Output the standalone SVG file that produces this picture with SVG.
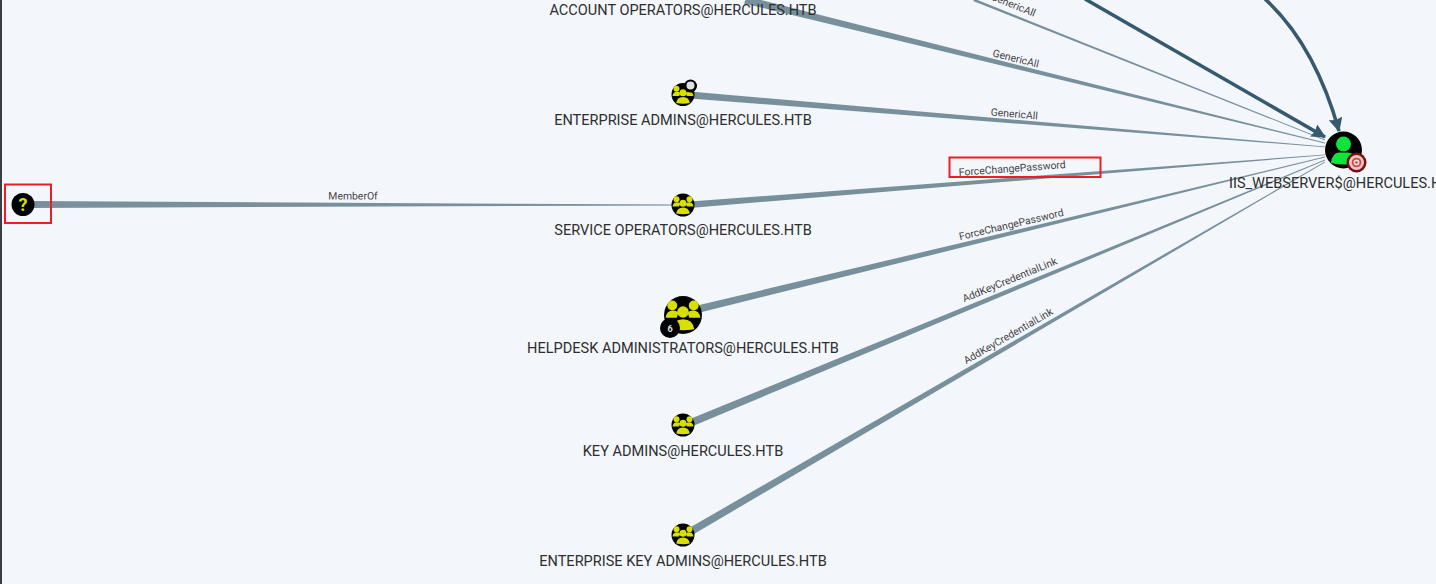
<svg xmlns="http://www.w3.org/2000/svg" width="1436" height="584" viewBox="0 0 1436 584">
<defs>
<style>
.e{fill:#78909c}
.d{fill:none;stroke:#37596d;stroke-width:3.6}
.l{font-family:Roboto,"Liberation Sans",sans-serif;font-size:14.55px;fill:#2e2e2e;text-anchor:middle}
.t{font-family:Roboto,"Liberation Sans",sans-serif;font-size:10.4px;fill:#444;text-anchor:middle}
.r{fill:none;stroke:#ee1c25;stroke-width:2}
.g{fill:#d8e000}
</style>
<marker id="a" markerUnits="userSpaceOnUse" markerWidth="16" markerHeight="16" refX="13" refY="7" orient="auto"><path d="M0 0L14 7L0 14L1.500 7Z" fill="#37596d"/></marker>
<g id="grp"><circle r="11.500" fill="#000"/><circle cx="-6.500" cy="-5.800" r="3" class="g"/><circle cx="6.500" cy="-5.800" r="3" class="g"/><path class="g" d="M-10.500 1.600Q-10-2.800-6-2.800Q-4-2.800-2.800-1.400L-3.800 1.600Z"/><path class="g" d="M10.500 1.600Q10-2.800 6-2.800Q4-2.800 2.800-1.400L3.800 1.600Z"/><circle cy="-1.800" r="3.500" class="g"/><path class="g" d="M-6.800 8.600Q-6 2.500 0 2.500Q6 2.500 6.800 8.600Q0 10-6.800 8.600Z"/></g>
</defs>
<rect width="1436" height="584" fill="#f3f7fc"/>
<rect width="2" height="584" fill="#3a3f44"/>
<g id="connectors">
<polygon class="e" points="30,201 683,204.600 683,205.400 30,208"/>
<polygon class="e" points="690,201.500 1325,154.500 1325,155.300 690,208"/>
<polygon class="e" points="690,91.500 1325,146.500 1325,147.300 690,98.500"/>
<polygon class="e" points="747,-3.500 1325,142.600 1325,143.400 744,3.500"/>
<polygon class="e" points="975,-1 1325,139.600 1325,140.400 973,1"/>
<polygon class="e" points="695,306 1325,156.600 1325,157.400 698,313"/>
<polygon class="e" points="690,419 1325,159.600 1325,160.400 693,426"/>
<polygon class="e" points="690,527.500 1325,161.600 1325,162.400 694,534"/>
<path class="d" marker-end="url(#a)" d="M1085 -1L1325 137"/>
<path class="d" marker-end="url(#a)" d="M1265 -1Q1315 45 1339 131"/>
<text class="t" transform="translate(353 199.500) rotate(0.200)">MemberOf</text>
<text class="t" transform="translate(1012 8) rotate(21.900)">GenericAll</text>
<text class="t" transform="translate(1015 62) rotate(14)">GenericAll</text>
<text class="t" transform="translate(1014 117.500) rotate(4.900)">GenericAll</text>
<text class="t" transform="translate(1012.500 172) rotate(-4.200)">ForceChangePassword</text>
<text class="t" transform="translate(1012 228) rotate(-13.300)">ForceChangePassword</text>
<text class="t" transform="translate(1011 283) rotate(-22.300)">AddKeyCredentialLink</text>
<text class="t" transform="translate(1010 339) rotate(-30)">AddKeyCredentialLink</text>
</g>
<g id="unknown"><circle cx="23" cy="204.500" r="11.500" fill="#000"/><text x="23" y="211" text-anchor="middle" font-family="Roboto,'Liberation Sans',sans-serif" font-size="18" font-weight="700" fill="#d8e000">?</text></g>
<g id="account-operators"><text class="l" x="683" y="15">ACCOUNT OPERATORS@HERCULES.HTB</text></g>
<g id="enterprise-admins"><use href="#grp" x="683" y="94.500"/><circle cx="690.500" cy="86" r="6.500" fill="#000"/><circle cx="690.500" cy="85.500" r="4" fill="#dfe1e3"/><text class="l" x="683" y="125">ENTERPRISE ADMINS@HERCULES.HTB</text></g>
<g id="service-operators"><use href="#grp" x="683" y="205"/><text class="l" x="683" y="235">SERVICE OPERATORS@HERCULES.HTB</text></g>
<g id="helpdesk-administrators"><use href="#grp" transform="translate(683 315) scale(1.650)"/><circle cx="670" cy="328" r="10" fill="#000"/><text x="670" y="331.500" text-anchor="middle" font-family="Roboto,'Liberation Sans',sans-serif" font-size="9" font-weight="700" fill="#e0e0e0">6</text><text class="l" x="683" y="353">HELPDESK ADMINISTRATORS@HERCULES.HTB</text></g>
<g id="key-admins"><use href="#grp" x="683" y="425"/><text class="l" x="683" y="456">KEY ADMINS@HERCULES.HTB</text></g>
<g id="enterprise-key-admins"><use href="#grp" x="683" y="535"/><text class="l" x="683" y="566">ENTERPRISE KEY ADMINS@HERCULES.HTB</text></g>
<g id="iis-webserver"><circle cx="1343.500" cy="150" r="18.500" fill="#000"/><circle cx="1343.500" cy="144" r="7.500" fill="#12e33c"/><path d="M1331 163Q1332 153 1339 152.500L1348 152.500Q1355 153 1357 163Q1344 166 1331 163Z" fill="#12e33c"/><circle cx="1356.500" cy="162.500" r="10" fill="#7a0f12"/><circle cx="1356.500" cy="162.500" r="7.500" fill="#f2c4c4"/><circle cx="1356.500" cy="162.500" r="4.800" fill="#c9474c"/><circle cx="1356.500" cy="162.500" r="3" fill="#f6dada"/><circle cx="1356.500" cy="162.500" r="1.300" fill="#c9474c"/><text class="l" x="1229" y="188" style="text-anchor:start">IIS_WEBSERVER$@HERCULES.HTB</text></g>
<rect class="r" x="5" y="184.500" width="46" height="38.500"/>
<rect class="r" x="949.500" y="157.500" width="151" height="19.500"/>
</svg>
